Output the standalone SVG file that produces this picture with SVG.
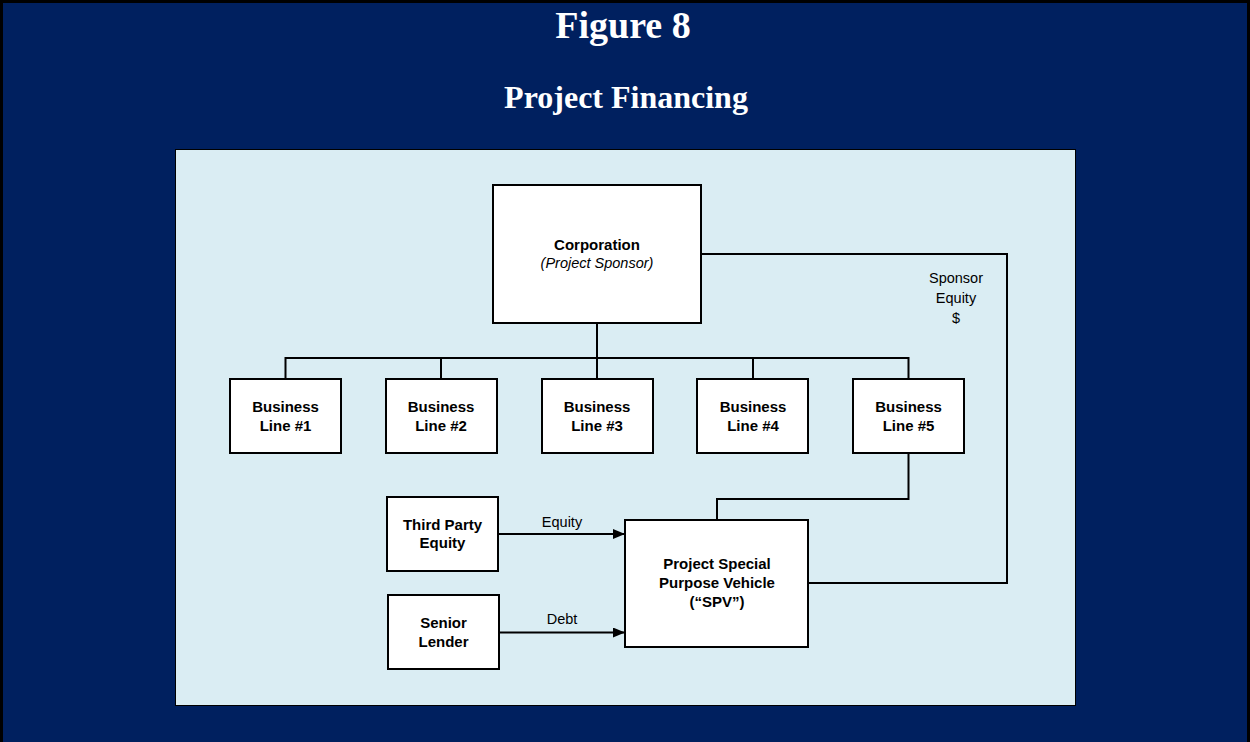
<svg xmlns="http://www.w3.org/2000/svg" width="1250" height="742" viewBox="0 0 1250 742">
<style>
.box{fill:#ffffff;stroke:#000000;stroke-width:2}
.ln{fill:none;stroke:#000000;stroke-width:2}
.t{font-family:"Liberation Sans",Arial,sans-serif;font-size:15px;font-weight:bold;fill:#000000;text-anchor:middle}
.r{font-family:"Liberation Sans",Arial,sans-serif;font-size:14.5px;fill:#000000;text-anchor:middle}
.title{font-family:"Liberation Serif","Times New Roman",serif;font-weight:bold;fill:#ffffff;text-anchor:middle}
</style>
<defs>
<marker id="arr" viewBox="0 0 12 10" refX="12" refY="5" markerWidth="12" markerHeight="10" markerUnits="userSpaceOnUse" orient="auto">
<path d="M0,0 L12,5 L0,10 z" fill="#000000"/>
</marker>
</defs>
<rect x="1.5" y="1.5" width="1247" height="745" fill="#00205F" stroke="#000000" stroke-width="3"/>
<text class="title" x="623" y="38" font-size="38">Figure 8</text>
<text class="title" x="626" y="108" font-size="32">Project Financing</text>
<rect x="175.5" y="149.5" width="900" height="556" fill="#DAEDF3" stroke="#000000" stroke-width="1"/>
<g id="connectors">
<polyline class="ln" points="597,323 597,379"/>
<polyline class="ln" points="285.5,379 285.5,358 908.5,358 908.5,379"/>
<line class="ln" x1="441" y1="358" x2="441" y2="379"/>
<line class="ln" x1="753" y1="358" x2="753" y2="379"/>
<polyline class="ln" points="908.5,453 908.5,499 717,499 717,520"/>
<polyline class="ln" points="701,254 1007,254 1007,583 808,583"/>
<line class="ln" x1="498" y1="534" x2="625" y2="534" marker-end="url(#arr)"/>
<line class="ln" x1="499" y1="632.5" x2="625" y2="632.5" marker-end="url(#arr)"/>
<text class="r" x="562" y="527">Equity</text>
<text class="r" x="562" y="624">Debt</text>
<text class="r" x="956" y="283">Sponsor</text>
<text class="r" x="956" y="303">Equity</text>
<text class="r" x="956" y="323">$</text>
</g>
<g id="corporation">
<rect class="box" x="493" y="185" width="208" height="138"/>
<text class="t" x="597" y="250">Corporation</text>
<text class="r" x="597" y="268" font-style="italic">(Project Sponsor)</text>
</g>
<g id="bl1">
<rect class="box" x="230" y="379" width="111" height="74"/>
<text class="t" x="285.5" y="412">Business</text>
<text class="t" x="285.5" y="431">Line #1</text>
</g>
<g id="bl2">
<rect class="box" x="386" y="379" width="111" height="74"/>
<text class="t" x="441" y="412">Business</text>
<text class="t" x="441" y="431">Line #2</text>
</g>
<g id="bl3">
<rect class="box" x="542" y="379" width="111" height="74"/>
<text class="t" x="597" y="412">Business</text>
<text class="t" x="597" y="431">Line #3</text>
</g>
<g id="bl4">
<rect class="box" x="697" y="379" width="111" height="74"/>
<text class="t" x="753" y="412">Business</text>
<text class="t" x="753" y="431">Line #4</text>
</g>
<g id="bl5">
<rect class="box" x="853" y="379" width="111" height="74"/>
<text class="t" x="908.5" y="412">Business</text>
<text class="t" x="908.5" y="431">Line #5</text>
</g>
<g id="thirdparty">
<rect class="box" x="387" y="497" width="111" height="74"/>
<text class="t" x="442.5" y="530">Third Party</text>
<text class="t" x="442.5" y="548">Equity</text>
</g>
<g id="senior">
<rect class="box" x="388" y="595" width="111" height="74"/>
<text class="t" x="443.5" y="628">Senior</text>
<text class="t" x="443.5" y="647">Lender</text>
</g>
<g id="spv">
<rect class="box" x="625" y="520" width="183" height="127"/>
<text class="t" x="717" y="569">Project Special</text>
<text class="t" x="717" y="588">Purpose Vehicle</text>
<text class="t" x="717" y="607">(“SPV”)</text>
</g>
</svg>
